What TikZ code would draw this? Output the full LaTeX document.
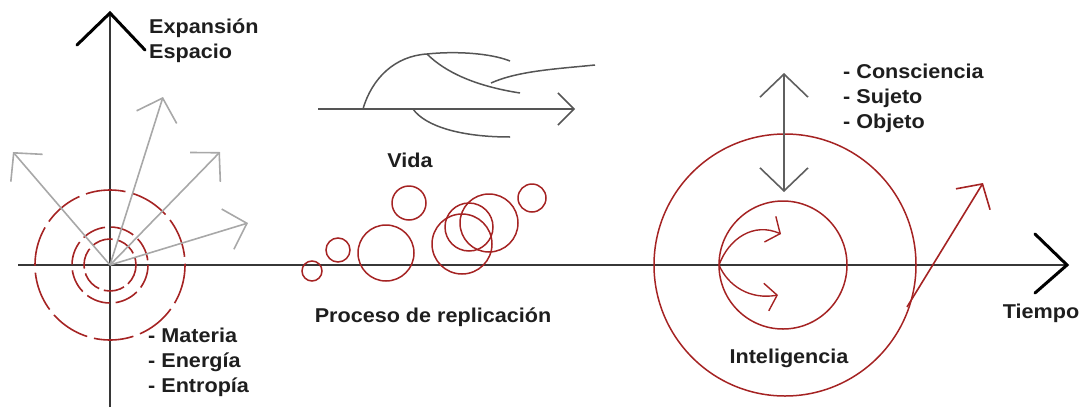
\documentclass[tikz,border=0pt]{standalone}
\usepackage{fontspec}
\setmainfont{Liberation Sans}
\usetikzlibrary{arrows.meta}
\definecolor{cred}{RGB}{165,35,35}
\definecolor{cgray}{RGB}{168,168,168}
\definecolor{caxis}{RGB}{55,55,55}
\definecolor{ctree}{RGB}{85,85,85}
\definecolor{ctext}{RGB}{30,30,30}
\begin{document}
\begin{tikzpicture}[x=1pt,y=-1pt,
  lbl/.style={font=\fontsize{20}{25}\selectfont\bfseries, text=ctext, inner sep=0pt, xscale=1.08, align=left},
  axisline/.style={caxis, line width=2.4pt},
  grayarrow/.style={cgray, line width=1.6pt, -{Straight Barb[length=20pt,width=42pt]}},
  dcirc/.style={cred, line width=1.6pt},
  rcirc/.style={cred, line width=1.5pt},
  treeline/.style={ctree, line width=1.5pt},
  dbl/.style={caxis!80, line width=1.6pt, {Straight Barb[length=23pt,width=48pt]}-{Straight Barb[length=23pt,width=48pt]}},
  smallred/.style={cred, line width=1.4pt, -{Straight Barb[length=11pt,width=28pt]}},
  bigred/.style={cred, line width=1.6pt, -{Straight Barb[length=18pt,width=40pt]}}
]
\useasboundingbox (0,0) rectangle (1083,407);

% ---------- axes ----------
\coordinate (O) at (110,265);
\coordinate (ytop) at (110,13);
\coordinate (ybot) at (110,407);
\coordinate (xl) at (18,265);
\coordinate (xr) at (1067,265);
\draw[axisline] (ybot) -- (ytop);
\draw[axisline] (xl) -- (xr);
\draw[black, line width=3pt, line cap=round] (77,45) -- (ytop) -- (145,50);
\draw[black, line width=3pt, line cap=round] (1035,234) -- (xr) -- (1035,293);

% ---------- dashed circles ----------
\draw[dcirc, dash pattern=on 40pt off 7pt] (O) circle (75);
\draw[dcirc, dash pattern=on 24pt off 6pt] (O) circle (38);
\draw[dcirc, dash pattern=on 21pt off 5pt] (O) circle (26);

% ---------- gray expansion arrows ----------
\coordinate (a1) at (13,152);
\coordinate (a2) at (163,97);
\coordinate (a3) at (220,152);
\coordinate (a4) at (248,223);
\draw[grayarrow] (O) -- (a1);
\draw[grayarrow] (O) -- (a2);
\draw[grayarrow] (O) -- (a3);
\draw[grayarrow] (O) -- (a4);

% ---------- labels left ----------
\node[lbl, anchor=base west] (exp) at (149,58) {Expansión\\Espacio};
\node[lbl, anchor=base west] (mat) at (148,392) {- Materia\\- Energía\\- Entropía};

% ---------- tree of life ----------
\coordinate (t0) at (318,109);
\coordinate (t1) at (575,109);
\coordinate (ta) at (363,109);
\coordinate (tb) at (427,54);
\coordinate (tc) at (491,83);
\coordinate (td) at (413,109);
\draw[treeline, -{Straight Barb[length=16pt,width=32pt]}] (t0) -- (t1);
\draw[treeline] (ta) .. controls (372,78) and (395,56) .. (tb);
\draw[treeline] (tb) .. controls (455,51) and (490,53) .. (510,61);
\draw[treeline] (tb) .. controls (445,72) and (475,86) .. (520,93);
\draw[treeline] (tc) .. controls (518,71) and (555,69) .. (595,65);
\draw[treeline] (td) .. controls (425,126) and (460,137) .. (510,137);
\node[lbl, anchor=base] (vida) at (410,167) {Vida};

% ---------- replication circles ----------
\draw[rcirc] (312,271) circle (10);
\draw[rcirc] (338,250) circle (12);
\draw[rcirc] (386,253) circle (28);
\draw[rcirc] (409,203) circle (17);
\draw[rcirc] (462,244) circle (30);
\draw[rcirc] (469,227) circle (24);
\draw[rcirc] (489,223) circle (29);
\draw[rcirc] (532,198) circle (14);
\node[lbl, anchor=base] (proc) at (433,322) {Proceso de replicación};

% ---------- intelligence ----------
\coordinate (C) at (785,265);
\draw[rcirc] (C) circle (131);
\draw[rcirc] (783,265) circle (64);
\coordinate (d1) at (784,73);
\coordinate (d2) at (784,192);
\draw[dbl] (d1) -- (d2);
\coordinate (s0) at (719,265);
\coordinate (su) at (781,234);
\coordinate (sd) at (778,295);
\draw[smallred] (s0) .. controls (729,238) and (754,222) .. (su);
\draw[smallred] (s0) .. controls (728,286) and (750,300) .. (sd);
\coordinate (r0) at (907,307);
\coordinate (r1) at (983,183);
\draw[bigred] (r0) -- (r1);

\node[lbl, anchor=base west] (cons) at (843,128) {- Consciencia\\- Sujeto\\- Objeto};
\node[lbl, anchor=base] (intel) at (789,363) {Inteligencia};
\node[lbl, anchor=base] (tiempo) at (1041,318) {Tiempo};
\end{tikzpicture}
\end{document}
